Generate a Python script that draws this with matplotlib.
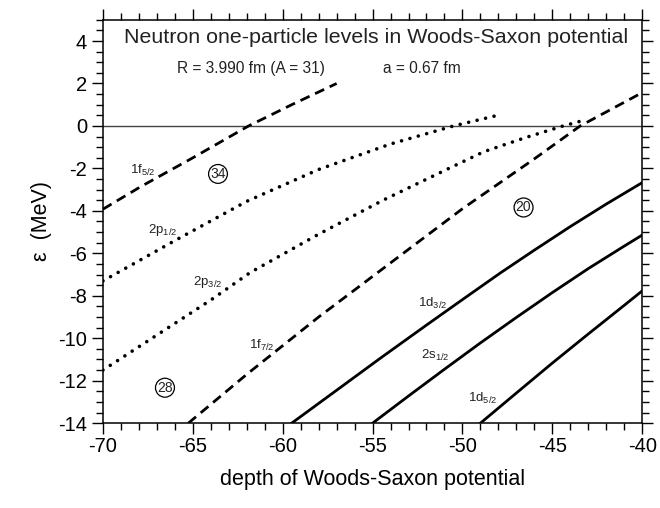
import matplotlib
matplotlib.use("Agg")
import matplotlib.pyplot as plt

plt.rcParams['font.family'] = ['Liberation Sans', 'DejaVu Sans']
plt.rcParams['mathtext.fontset'] = 'custom'
plt.rcParams['mathtext.rm'] = 'Liberation Sans'
plt.rcParams['mathtext.it'] = 'Liberation Sans'
plt.rcParams['axes.unicode_minus'] = False

# levels: depth (MeV) vs energy (MeV)
d_1f52 = [-70.0, -67.9, -65.0, -61.9, -59.5, -57.0]
e_1f52 = [-3.92, -2.86, -1.50, 0.00, 1.00, 2.00]

d_2p12 = [-70.0, -66.0, -62.0, -58.0, -54.0, -50.5, -47.8]
e_2p12 = [-7.30, -5.40, -3.55, -2.05, -0.85, 0.00, 0.55]

d_2p32 = [-70.0, -64.0, -61.8, -58.0, -54.4, -51.0, -48.8, -46.5, -44.4, -43.1]
e_2p32 = [-11.5, -8.20, -6.90, -5.10, -3.49, -2.10, -1.21, -0.55, 0.00, 0.30]

d_1f72 = [-65.25, -62.0, -58.0, -54.0, -50.0, -46.0, -43.45, -40.0]
e_1f72 = [-14.0, -11.7, -9.0, -6.45, -3.9, -1.55, 0.0, 1.57]

d_1d32 = [-59.5, -57.0, -54.6, -52.0, -50.0, -47.9, -46.0, -44.0, -42.0, -40.0]
e_1d32 = [-14.0, -12.45, -10.96, -9.38, -8.18, -6.93, -5.85, -4.74, -3.68, -2.67]

d_2s12 = [-55.0, -53.0, -51.0, -49.0, -47.0, -45.0, -43.0, -41.0, -40.0]
e_2s12 = [-14.0, -12.72, -11.46, -10.22, -9.02, -7.85, -6.72, -5.66, -5.14]

d_1d52 = [-49.0, -47.0, -45.0, -43.0, -41.0, -40.0]
e_1d52 = [-14.0, -12.58, -11.17, -9.80, -8.45, -7.77]

fig = plt.figure(figsize=(6.6, 5.08), dpi=100)
ax = fig.add_axes([0.156, 0.167, 0.817, 0.794])

dash = (0, (3.6, 2.2))
dot = (0, (0.01, 2.4))
lw = 2.0

ax.axhline(0, color='#444444', lw=1.0, zorder=1)

ax.plot(d_1f52, e_1f52, color='k', lw=lw, ls=dash)
ax.plot(d_1f72, e_1f72, color='k', lw=lw, ls=dash)
ax.plot(d_2p12, e_2p12, color='k', lw=2.6, ls=dot, dash_capstyle='round')
ax.plot(d_2p32, e_2p32, color='k', lw=2.6, ls=dot, dash_capstyle='round')
ax.plot(d_1d32, e_1d32, color='k', lw=lw)
ax.plot(d_2s12, e_2s12, color='k', lw=lw)
ax.plot(d_1d52, e_1d52, color='k', lw=lw)

lab = dict(fontsize=9.5, color='#222222', va='center', ha='left')
ax.text(-68.5, -2.1, r'1f$_{\mathrm{5/2}}$', **lab)
ax.text(-67.5, -4.9, r'2p$_{\mathrm{1/2}}$', **lab)
ax.text(-65.0, -7.35, r'2p$_{\mathrm{3/2}}$', **lab)
ax.text(-61.9, -10.33, r'1f$_{\mathrm{7/2}}$', **lab)
ax.text(-52.5, -8.36, r'1d$_{\mathrm{3/2}}$', **lab)
ax.text(-52.3, -10.8, r'2s$_{\mathrm{1/2}}$', **lab)
ax.text(-49.7, -12.83, r'1d$_{\mathrm{5/2}}$', **lab)

circ = dict(fontsize=10, ha='center', va='center', color='#222222',
            bbox=dict(boxstyle='circle,pad=0.12', fc='none', ec='k', lw=0.9))
ax.text(-63.6, -2.26, '34', **circ)
ax.text(-66.55, -12.33, '28', **circ)
ax.text(-46.6, -3.84, '20', **circ)

ax.text(-54.8, 4.15, 'Neutron one-particle levels in Woods-Saxon potential',
        fontsize=15.4, ha='center', va='center', color='#222222')
ax.text(-65.9, 2.72, 'R = 3.990 fm (A = 31)', fontsize=11.2, ha='left', va='center', color='#222222')
ax.text(-54.44, 2.72, 'a = 0.67 fm', fontsize=11.2, ha='left', va='center', color='#222222')

ax.set_xlim(-70, -40)
ax.set_ylim(-14, 5)
ax.set_xticks(range(-70, -39, 5))
ax.set_xticks(range(-70, -39, 1), minor=True)
ax.set_yticks(range(-14, 5, 2))
ax.set_yticks([v * 0.5 for v in range(-28, 11)], minor=True)
ax.tick_params(which='both', direction='out', top=True, right=True, labelsize=14.5, width=1.0)
ax.tick_params(which='major', length=8)
ax.tick_params(which='minor', length=5)
ax.tick_params(axis='x', which='major', pad=2)
for s in ax.spines.values():
    s.set_linewidth(1.1)

ax.set_xlabel('depth of Woods-Saxon potential', fontsize=15.5, labelpad=9)
ax.set_ylabel('ε  (MeV)', fontsize=15.5, labelpad=4)

fig.savefig('out.png', dpi=100)
